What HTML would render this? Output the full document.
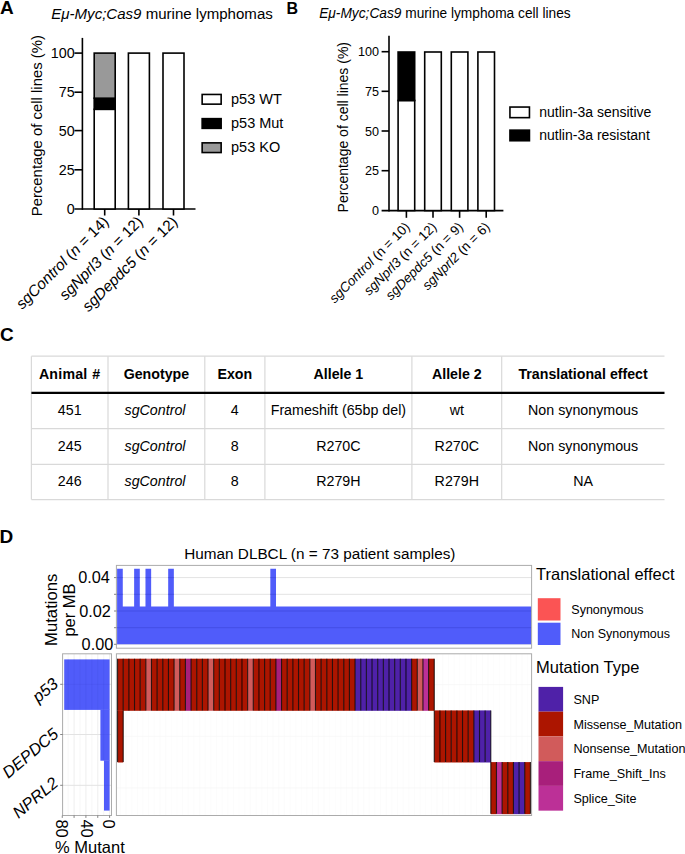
<!DOCTYPE html><html><head><meta charset="utf-8"><title>Figure</title>
<style>html,body{margin:0;padding:0;background:#fff;}svg{display:block;}text{font-family:"Liberation Sans", sans-serif;fill:#000;}</style>
</head><body>
<svg width="685" height="854" viewBox="0 0 685 854">
<rect x="0" y="0" width="685" height="854" fill="#fff"/>
<text x="0" y="14" font-size="19" text-anchor="start" font-weight="bold" font-style="normal" >A</text>
<text x="286.4" y="13.7" font-size="16" text-anchor="start" font-weight="bold" font-style="normal" >B</text>
<text x="0" y="341.2" font-size="19" text-anchor="start" font-weight="bold" font-style="normal" >C</text>
<text x="-0.4" y="543.2" font-size="19" text-anchor="start" font-weight="bold" font-style="normal" >D</text>
<g id="pA">
<text x="51.3" y="18.8" font-size="15.05"><tspan font-style="italic">Eμ-Myc;Cas9</tspan> murine lymphomas</text>
<text transform="translate(42.4,216.3) rotate(-90)" font-size="14.9">Percentage of cell lines (%)</text>
<g stroke="#000" stroke-width="1.6" fill="none">
<line x1="82.4" y1="37.9" x2="82.4" y2="209.8"/>
<line x1="74.4" y1="209" x2="195.5" y2="209"/>
<line x1="74.4" y1="53.1" x2="82.4" y2="53.1"/>
<line x1="74.4" y1="92.2" x2="82.4" y2="92.2"/>
<line x1="74.4" y1="130.6" x2="82.4" y2="130.6"/>
<line x1="74.4" y1="169.8" x2="82.4" y2="169.8"/>
<line x1="104.7" y1="209" x2="104.7" y2="215.5"/>
<line x1="138.9" y1="209" x2="138.9" y2="215.5"/>
<line x1="173.5" y1="209" x2="173.5" y2="215.5"/>
</g>
<text x="74.6" y="58.300000000000004" font-size="14.3" text-anchor="end" font-weight="normal" font-style="normal" >100</text>
<text x="74.6" y="97.4" font-size="14.3" text-anchor="end" font-weight="normal" font-style="normal" >75</text>
<text x="74.6" y="135.79999999999998" font-size="14.3" text-anchor="end" font-weight="normal" font-style="normal" >50</text>
<text x="74.6" y="175.0" font-size="14.3" text-anchor="end" font-weight="normal" font-style="normal" >25</text>
<text x="74.6" y="214.2" font-size="14.3" text-anchor="end" font-weight="normal" font-style="normal" >0</text>
<rect x="94.20" y="109.30" width="21.0" height="99.70" fill="#fff" stroke="#000" stroke-width="1.6"/>
<rect x="94.20" y="98.20" width="21.0" height="11.10" fill="#000" stroke="#000" stroke-width="1.6"/>
<rect x="94.20" y="53.10" width="21.0" height="45.10" fill="#999" stroke="#000" stroke-width="1.6"/>
<rect x="128.40" y="53.10" width="21.0" height="155.90" fill="#fff" stroke="#000" stroke-width="1.6"/>
<rect x="163.00" y="53.10" width="21.0" height="155.90" fill="#fff" stroke="#000" stroke-width="1.6"/>
<text transform="translate(109.6,222.6) rotate(-45)" font-size="15.4" text-anchor="end"><tspan font-style="italic">sgControl</tspan> (<tspan font-style="italic">n</tspan> = 14)</text>
<text transform="translate(143.8,222.6) rotate(-45)" font-size="15.4" text-anchor="end"><tspan font-style="italic">sgNprl3</tspan> (<tspan font-style="italic">n</tspan> = 12)</text>
<text transform="translate(178.4,222.6) rotate(-45)" font-size="15.4" text-anchor="end"><tspan font-style="italic">sgDepdc5</tspan> (<tspan font-style="italic">n</tspan> = 12)</text>
<rect x="202.15" y="94.45" width="19.0" height="9.7" fill="#fff" stroke="#000" stroke-width="1.6"/>
<text x="231" y="104.05" font-size="14.5" text-anchor="start" font-weight="normal" font-style="normal" >p53 WT</text>
<rect x="202.15" y="118.65" width="19.0" height="9.7" fill="#000" stroke="#000" stroke-width="1.6"/>
<text x="231" y="128.25" font-size="14.5" text-anchor="start" font-weight="normal" font-style="normal" >p53 Mut</text>
<rect x="202.15" y="142.85" width="19.0" height="9.7" fill="#999" stroke="#000" stroke-width="1.6"/>
<text x="231" y="152.45" font-size="14.5" text-anchor="start" font-weight="normal" font-style="normal" >p53 KO</text>
</g>
<g id="pB">
<text x="319.2" y="18.4" font-size="13.72"><tspan font-style="italic">Eμ-Myc;Cas9</tspan> murine lymphoma cell lines</text>
<text transform="translate(348.1,212.4) rotate(-90)" font-size="14">Percentage of cell lines (%)</text>
<g stroke="#000" stroke-width="1.6" fill="none">
<line x1="389" y1="35.8" x2="389" y2="211.4"/>
<line x1="381.6" y1="210.6" x2="503.4" y2="210.6"/>
<line x1="381.6" y1="51.7" x2="389" y2="51.7"/>
<line x1="381.6" y1="91.3" x2="389" y2="91.3"/>
<line x1="381.6" y1="131.0" x2="389" y2="131.0"/>
<line x1="381.6" y1="170.7" x2="389" y2="170.7"/>
<line x1="406.4" y1="210.6" x2="406.4" y2="217.8"/>
<line x1="433.0" y1="210.6" x2="433.0" y2="217.8"/>
<line x1="459.6" y1="210.6" x2="459.6" y2="217.8"/>
<line x1="486.2" y1="210.6" x2="486.2" y2="217.8"/>
</g>
<text x="378.9" y="56.300000000000004" font-size="12.6" text-anchor="end" font-weight="normal" font-style="normal" >100</text>
<text x="378.9" y="95.89999999999999" font-size="12.6" text-anchor="end" font-weight="normal" font-style="normal" >75</text>
<text x="378.9" y="135.6" font-size="12.6" text-anchor="end" font-weight="normal" font-style="normal" >50</text>
<text x="378.9" y="175.29999999999998" font-size="12.6" text-anchor="end" font-weight="normal" font-style="normal" >25</text>
<text x="378.9" y="215.2" font-size="12.6" text-anchor="end" font-weight="normal" font-style="normal" >0</text>
<rect x="398.10" y="100.50" width="16.6" height="110.10" fill="#fff" stroke="#000" stroke-width="1.6"/>
<rect x="398.10" y="52.00" width="16.6" height="48.50" fill="#000" stroke="#000" stroke-width="1.6"/>
<rect x="424.70" y="52.00" width="16.6" height="158.60" fill="#fff" stroke="#000" stroke-width="1.6"/>
<rect x="451.30" y="52.00" width="16.6" height="158.60" fill="#fff" stroke="#000" stroke-width="1.6"/>
<rect x="477.90" y="52.00" width="16.6" height="158.60" fill="#fff" stroke="#000" stroke-width="1.6"/>
<text transform="translate(410.7,227.8) rotate(-45)" font-size="13.4" text-anchor="end"><tspan font-style="italic">sgControl</tspan> (n = 10)</text>
<text transform="translate(437.5,227.8) rotate(-45)" font-size="13.4" text-anchor="end"><tspan font-style="italic">sgNprl3</tspan> (n = 12)</text>
<text transform="translate(463.9,227.8) rotate(-45)" font-size="13.4" text-anchor="end"><tspan font-style="italic">sgDepdc5</tspan> (n = 9)</text>
<text transform="translate(490.6,227.8) rotate(-45)" font-size="13.4" text-anchor="end"><tspan font-style="italic">sgNprl2</tspan> (n = 6)</text>
<rect x="509.95" y="107.05" width="19.5" height="10.6" fill="#fff" stroke="#000" stroke-width="1.6"/>
<text x="539.3" y="117.1" font-size="14" text-anchor="start" font-weight="normal" font-style="normal" >nutlin-3a sensitive</text>
<rect x="509.95" y="130.15" width="19.5" height="10.6" fill="#000" stroke="#000" stroke-width="1.6"/>
<text x="539.3" y="140.2" font-size="14" text-anchor="start" font-weight="normal" font-style="normal" >nutlin-3a resistant</text>
</g>
<g id="pC">
<g stroke="#d9d9d9" stroke-width="1.2">
<line x1="31.4" y1="356.2" x2="31.4" y2="499.6"/>
<line x1="108" y1="356.2" x2="108" y2="499.6"/>
<line x1="204.8" y1="356.2" x2="204.8" y2="499.6"/>
<line x1="264.9" y1="356.2" x2="264.9" y2="499.6"/>
<line x1="411.9" y1="356.2" x2="411.9" y2="499.6"/>
<line x1="501.7" y1="356.2" x2="501.7" y2="499.6"/>
<line x1="31.4" y1="356.2" x2="664.5" y2="356.2"/>
<line x1="31.4" y1="428.7" x2="664.5" y2="428.7"/>
<line x1="31.4" y1="464.3" x2="664.5" y2="464.3"/>
<line x1="31.4" y1="499.6" x2="664.5" y2="499.6"/>
</g>
<line x1="31.4" y1="392.8" x2="664.5" y2="392.8" stroke="#000" stroke-width="2.2"/>
<text x="69.7" y="378.5" font-size="14.2" text-anchor="middle" font-weight="bold" font-style="normal" word-spacing="0.8" letter-spacing="0.2">Animal #</text>
<text x="156.4" y="378.5" font-size="14.2" text-anchor="middle" font-weight="bold" font-style="normal" >Genotype</text>
<text x="234.8" y="378.5" font-size="14.2" text-anchor="middle" font-weight="bold" font-style="normal" >Exon</text>
<text x="338.4" y="378.5" font-size="14.2" text-anchor="middle" font-weight="bold" font-style="normal" >Allele 1</text>
<text x="456.8" y="378.5" font-size="14.2" text-anchor="middle" font-weight="bold" font-style="normal" >Allele 2</text>
<text x="583.1" y="378.5" font-size="14.2" text-anchor="middle" font-weight="bold" font-style="normal" >Translational effect</text>
<text x="69.7" y="415.2" font-size="14.25" text-anchor="middle" font-weight="normal" font-style="normal" >451</text>
<text x="155.0" y="415.2" font-size="14.25" text-anchor="middle" font-weight="normal" font-style="italic" >sgControl</text>
<text x="234.8" y="415.2" font-size="14.25" text-anchor="middle" font-weight="normal" font-style="normal" >4</text>
<text x="338.4" y="415.2" font-size="14.25" text-anchor="middle" font-weight="normal" font-style="normal" >Frameshift (65bp del)</text>
<text x="456.8" y="415.2" font-size="14.25" text-anchor="middle" font-weight="normal" font-style="normal" >wt</text>
<text x="583.1" y="415.2" font-size="14.25" text-anchor="middle" font-weight="normal" font-style="normal" >Non synonymous</text>
<text x="69.7" y="450.9" font-size="14.25" text-anchor="middle" font-weight="normal" font-style="normal" >245</text>
<text x="155.0" y="450.9" font-size="14.25" text-anchor="middle" font-weight="normal" font-style="italic" >sgControl</text>
<text x="234.8" y="450.9" font-size="14.25" text-anchor="middle" font-weight="normal" font-style="normal" >8</text>
<text x="338.4" y="450.9" font-size="14.25" text-anchor="middle" font-weight="normal" font-style="normal" >R270C</text>
<text x="456.8" y="450.9" font-size="14.25" text-anchor="middle" font-weight="normal" font-style="normal" >R270C</text>
<text x="583.1" y="450.9" font-size="14.25" text-anchor="middle" font-weight="normal" font-style="normal" >Non synonymous</text>
<text x="69.7" y="486.2" font-size="14.25" text-anchor="middle" font-weight="normal" font-style="normal" >246</text>
<text x="155.0" y="486.2" font-size="14.25" text-anchor="middle" font-weight="normal" font-style="italic" >sgControl</text>
<text x="234.8" y="486.2" font-size="14.25" text-anchor="middle" font-weight="normal" font-style="normal" >8</text>
<text x="338.4" y="486.2" font-size="14.25" text-anchor="middle" font-weight="normal" font-style="normal" >R279H</text>
<text x="456.8" y="486.2" font-size="14.25" text-anchor="middle" font-weight="normal" font-style="normal" >R279H</text>
<text x="583.1" y="486.2" font-size="14.25" text-anchor="middle" font-weight="normal" font-style="normal" >NA</text>
</g>
<g id="pD">
<text x="184.3" y="559.3" font-size="15.3" text-anchor="start" font-weight="normal" font-style="normal" >Human DLBCL (n = 73 patient samples)</text>
<rect x="116.4" y="565.4" width="415.20000000000005" height="82.80000000000007" fill="#fff"/>
<line x1="116.4" y1="577.6" x2="531.6" y2="577.6" stroke="#e3e3e3" stroke-width="1"/>
<line x1="116.4" y1="594.3" x2="531.6" y2="594.3" stroke="#e3e3e3" stroke-width="1"/>
<line x1="116.4" y1="611.0" x2="531.6" y2="611.0" stroke="#e3e3e3" stroke-width="1"/>
<line x1="116.4" y1="627.7" x2="531.6" y2="627.7" stroke="#e3e3e3" stroke-width="1"/>
<line x1="116.4" y1="644.3" x2="531.6" y2="644.3" stroke="#e3e3e3" stroke-width="1"/>
<clipPath id="bc"><path d="M117.1,644.3 L117.10,568.8 L122.78,568.8 L122.78,606.6 L128.45,606.6 L128.45,606.6 L134.13,606.6 L134.13,568.8 L139.80,568.8 L139.80,606.6 L145.48,606.6 L145.48,568.8 L151.15,568.8 L151.15,606.6 L156.83,606.6 L156.83,606.6 L162.50,606.6 L162.50,606.6 L168.18,606.6 L168.18,568.8 L173.85,568.8 L173.85,606.6 L179.53,606.6 L179.53,606.6 L185.20,606.6 L185.20,606.6 L190.88,606.6 L190.88,606.6 L196.55,606.6 L196.55,606.6 L202.23,606.6 L202.23,606.6 L207.91,606.6 L207.91,606.6 L213.58,606.6 L213.58,606.6 L219.26,606.6 L219.26,606.6 L224.93,606.6 L224.93,606.6 L230.61,606.6 L230.61,606.6 L236.28,606.6 L236.28,606.6 L241.96,606.6 L241.96,606.6 L247.63,606.6 L247.63,606.6 L253.31,606.6 L253.31,606.6 L258.98,606.6 L258.98,606.6 L264.66,606.6 L264.66,606.6 L270.33,606.6 L270.33,568.8 L276.01,568.8 L276.01,606.6 L281.68,606.6 L281.68,606.6 L287.36,606.6 L287.36,606.6 L293.04,606.6 L293.04,606.6 L298.71,606.6 L298.71,606.6 L304.39,606.6 L304.39,606.6 L310.06,606.6 L310.06,606.6 L315.74,606.6 L315.74,606.6 L321.41,606.6 L321.41,606.6 L327.09,606.6 L327.09,606.6 L332.76,606.6 L332.76,606.6 L338.44,606.6 L338.44,606.6 L344.11,606.6 L344.11,606.6 L349.79,606.6 L349.79,606.6 L355.46,606.6 L355.46,606.6 L361.14,606.6 L361.14,606.6 L366.82,606.6 L366.82,606.6 L372.49,606.6 L372.49,606.6 L378.17,606.6 L378.17,606.6 L383.84,606.6 L383.84,606.6 L389.52,606.6 L389.52,606.6 L395.19,606.6 L395.19,606.6 L400.87,606.6 L400.87,606.6 L406.54,606.6 L406.54,606.6 L412.22,606.6 L412.22,606.6 L417.89,606.6 L417.89,606.6 L423.57,606.6 L423.57,606.6 L429.24,606.6 L429.24,606.6 L434.92,606.6 L434.92,606.6 L440.59,606.6 L440.59,606.6 L446.27,606.6 L446.27,606.6 L451.95,606.6 L451.95,606.6 L457.62,606.6 L457.62,606.6 L463.30,606.6 L463.30,606.6 L468.97,606.6 L468.97,606.6 L474.65,606.6 L474.65,606.6 L480.32,606.6 L480.32,606.6 L486.00,606.6 L486.00,606.6 L491.67,606.6 L491.67,606.6 L497.35,606.6 L497.35,606.6 L503.02,606.6 L503.02,606.6 L508.70,606.6 L508.70,606.6 L514.37,606.6 L514.37,606.6 L520.05,606.6 L520.05,606.6 L525.72,606.6 L525.72,606.6 L531.40,606.6 L531.40,644.3 Z"/></clipPath>
<path d="M117.1,644.3 L117.10,568.8 L122.78,568.8 L122.78,606.6 L128.45,606.6 L128.45,606.6 L134.13,606.6 L134.13,568.8 L139.80,568.8 L139.80,606.6 L145.48,606.6 L145.48,568.8 L151.15,568.8 L151.15,606.6 L156.83,606.6 L156.83,606.6 L162.50,606.6 L162.50,606.6 L168.18,606.6 L168.18,568.8 L173.85,568.8 L173.85,606.6 L179.53,606.6 L179.53,606.6 L185.20,606.6 L185.20,606.6 L190.88,606.6 L190.88,606.6 L196.55,606.6 L196.55,606.6 L202.23,606.6 L202.23,606.6 L207.91,606.6 L207.91,606.6 L213.58,606.6 L213.58,606.6 L219.26,606.6 L219.26,606.6 L224.93,606.6 L224.93,606.6 L230.61,606.6 L230.61,606.6 L236.28,606.6 L236.28,606.6 L241.96,606.6 L241.96,606.6 L247.63,606.6 L247.63,606.6 L253.31,606.6 L253.31,606.6 L258.98,606.6 L258.98,606.6 L264.66,606.6 L264.66,606.6 L270.33,606.6 L270.33,568.8 L276.01,568.8 L276.01,606.6 L281.68,606.6 L281.68,606.6 L287.36,606.6 L287.36,606.6 L293.04,606.6 L293.04,606.6 L298.71,606.6 L298.71,606.6 L304.39,606.6 L304.39,606.6 L310.06,606.6 L310.06,606.6 L315.74,606.6 L315.74,606.6 L321.41,606.6 L321.41,606.6 L327.09,606.6 L327.09,606.6 L332.76,606.6 L332.76,606.6 L338.44,606.6 L338.44,606.6 L344.11,606.6 L344.11,606.6 L349.79,606.6 L349.79,606.6 L355.46,606.6 L355.46,606.6 L361.14,606.6 L361.14,606.6 L366.82,606.6 L366.82,606.6 L372.49,606.6 L372.49,606.6 L378.17,606.6 L378.17,606.6 L383.84,606.6 L383.84,606.6 L389.52,606.6 L389.52,606.6 L395.19,606.6 L395.19,606.6 L400.87,606.6 L400.87,606.6 L406.54,606.6 L406.54,606.6 L412.22,606.6 L412.22,606.6 L417.89,606.6 L417.89,606.6 L423.57,606.6 L423.57,606.6 L429.24,606.6 L429.24,606.6 L434.92,606.6 L434.92,606.6 L440.59,606.6 L440.59,606.6 L446.27,606.6 L446.27,606.6 L451.95,606.6 L451.95,606.6 L457.62,606.6 L457.62,606.6 L463.30,606.6 L463.30,606.6 L468.97,606.6 L468.97,606.6 L474.65,606.6 L474.65,606.6 L480.32,606.6 L480.32,606.6 L486.00,606.6 L486.00,606.6 L491.67,606.6 L491.67,606.6 L497.35,606.6 L497.35,606.6 L503.02,606.6 L503.02,606.6 L508.70,606.6 L508.70,606.6 L514.37,606.6 L514.37,606.6 L520.05,606.6 L520.05,606.6 L525.72,606.6 L525.72,606.6 L531.40,606.6 L531.40,644.3 Z" fill="#505cfa"/>
<line x1="117.1" y1="577.6" x2="531.40" y2="577.6" stroke="#3a45d8" stroke-width="1" opacity="0.6" clip-path="url(#bc)"/>
<line x1="117.1" y1="594.3" x2="531.40" y2="594.3" stroke="#3a45d8" stroke-width="1" opacity="0.6" clip-path="url(#bc)"/>
<line x1="117.1" y1="611.0" x2="531.40" y2="611.0" stroke="#3a45d8" stroke-width="1" opacity="0.6" clip-path="url(#bc)"/>
<line x1="117.1" y1="627.7" x2="531.40" y2="627.7" stroke="#3a45d8" stroke-width="1" opacity="0.6" clip-path="url(#bc)"/>
<rect x="116.4" y="565.4" width="415.20000000000005" height="82.80000000000007" fill="none" stroke="#ababab" stroke-width="1"/>
<line x1="114" y1="577.6" x2="116.4" y2="577.6" stroke="#666" stroke-width="0.8"/>
<line x1="114" y1="594.3" x2="116.4" y2="594.3" stroke="#666" stroke-width="0.8"/>
<line x1="114" y1="611.0" x2="116.4" y2="611.0" stroke="#666" stroke-width="0.8"/>
<line x1="114" y1="627.7" x2="116.4" y2="627.7" stroke="#666" stroke-width="0.8"/>
<line x1="114" y1="644.3" x2="116.4" y2="644.3" stroke="#666" stroke-width="0.8"/>
<text x="109.9" y="583.2" font-size="16.3" text-anchor="end" font-weight="normal" font-style="normal" >0.04</text>
<text x="110.9" y="616.6" font-size="16.3" text-anchor="end" font-weight="normal" font-style="normal" >0.02</text>
<text x="113.3" y="649.9" font-size="16.3" text-anchor="end" font-weight="normal" font-style="normal" >0.00</text>
<text transform="translate(57.3,609.8) rotate(-90)" font-size="16.7" text-anchor="middle">Mutations</text>
<text transform="translate(75.1,610) rotate(-90)" font-size="16.5" text-anchor="middle">per MB</text>
<rect x="116.4" y="653.8" width="415.20000000000005" height="161.70000000000005" fill="#fff"/>
<line x1="120.38" y1="653.8" x2="120.38" y2="815.5" stroke="#fafafa" stroke-width="0.7"/>
<line x1="126.03" y1="653.8" x2="126.03" y2="815.5" stroke="#fafafa" stroke-width="0.7"/>
<line x1="131.69" y1="653.8" x2="131.69" y2="815.5" stroke="#fafafa" stroke-width="0.7"/>
<line x1="137.34" y1="653.8" x2="137.34" y2="815.5" stroke="#fafafa" stroke-width="0.7"/>
<line x1="143.00" y1="653.8" x2="143.00" y2="815.5" stroke="#fafafa" stroke-width="0.7"/>
<line x1="148.66" y1="653.8" x2="148.66" y2="815.5" stroke="#fafafa" stroke-width="0.7"/>
<line x1="154.31" y1="653.8" x2="154.31" y2="815.5" stroke="#fafafa" stroke-width="0.7"/>
<line x1="159.97" y1="653.8" x2="159.97" y2="815.5" stroke="#fafafa" stroke-width="0.7"/>
<line x1="165.62" y1="653.8" x2="165.62" y2="815.5" stroke="#fafafa" stroke-width="0.7"/>
<line x1="171.28" y1="653.8" x2="171.28" y2="815.5" stroke="#fafafa" stroke-width="0.7"/>
<line x1="176.93" y1="653.8" x2="176.93" y2="815.5" stroke="#fafafa" stroke-width="0.7"/>
<line x1="182.59" y1="653.8" x2="182.59" y2="815.5" stroke="#fafafa" stroke-width="0.7"/>
<line x1="188.24" y1="653.8" x2="188.24" y2="815.5" stroke="#fafafa" stroke-width="0.7"/>
<line x1="193.90" y1="653.8" x2="193.90" y2="815.5" stroke="#fafafa" stroke-width="0.7"/>
<line x1="199.55" y1="653.8" x2="199.55" y2="815.5" stroke="#fafafa" stroke-width="0.7"/>
<line x1="205.21" y1="653.8" x2="205.21" y2="815.5" stroke="#fafafa" stroke-width="0.7"/>
<line x1="210.87" y1="653.8" x2="210.87" y2="815.5" stroke="#fafafa" stroke-width="0.7"/>
<line x1="216.52" y1="653.8" x2="216.52" y2="815.5" stroke="#fafafa" stroke-width="0.7"/>
<line x1="222.18" y1="653.8" x2="222.18" y2="815.5" stroke="#fafafa" stroke-width="0.7"/>
<line x1="227.83" y1="653.8" x2="227.83" y2="815.5" stroke="#fafafa" stroke-width="0.7"/>
<line x1="233.49" y1="653.8" x2="233.49" y2="815.5" stroke="#fafafa" stroke-width="0.7"/>
<line x1="239.14" y1="653.8" x2="239.14" y2="815.5" stroke="#fafafa" stroke-width="0.7"/>
<line x1="244.80" y1="653.8" x2="244.80" y2="815.5" stroke="#fafafa" stroke-width="0.7"/>
<line x1="250.45" y1="653.8" x2="250.45" y2="815.5" stroke="#fafafa" stroke-width="0.7"/>
<line x1="256.11" y1="653.8" x2="256.11" y2="815.5" stroke="#fafafa" stroke-width="0.7"/>
<line x1="261.76" y1="653.8" x2="261.76" y2="815.5" stroke="#fafafa" stroke-width="0.7"/>
<line x1="267.42" y1="653.8" x2="267.42" y2="815.5" stroke="#fafafa" stroke-width="0.7"/>
<line x1="273.08" y1="653.8" x2="273.08" y2="815.5" stroke="#fafafa" stroke-width="0.7"/>
<line x1="278.73" y1="653.8" x2="278.73" y2="815.5" stroke="#fafafa" stroke-width="0.7"/>
<line x1="284.39" y1="653.8" x2="284.39" y2="815.5" stroke="#fafafa" stroke-width="0.7"/>
<line x1="290.04" y1="653.8" x2="290.04" y2="815.5" stroke="#fafafa" stroke-width="0.7"/>
<line x1="295.70" y1="653.8" x2="295.70" y2="815.5" stroke="#fafafa" stroke-width="0.7"/>
<line x1="301.35" y1="653.8" x2="301.35" y2="815.5" stroke="#fafafa" stroke-width="0.7"/>
<line x1="307.01" y1="653.8" x2="307.01" y2="815.5" stroke="#fafafa" stroke-width="0.7"/>
<line x1="312.66" y1="653.8" x2="312.66" y2="815.5" stroke="#fafafa" stroke-width="0.7"/>
<line x1="318.32" y1="653.8" x2="318.32" y2="815.5" stroke="#fafafa" stroke-width="0.7"/>
<line x1="323.97" y1="653.8" x2="323.97" y2="815.5" stroke="#fafafa" stroke-width="0.7"/>
<line x1="329.63" y1="653.8" x2="329.63" y2="815.5" stroke="#fafafa" stroke-width="0.7"/>
<line x1="335.29" y1="653.8" x2="335.29" y2="815.5" stroke="#fafafa" stroke-width="0.7"/>
<line x1="340.94" y1="653.8" x2="340.94" y2="815.5" stroke="#fafafa" stroke-width="0.7"/>
<line x1="346.60" y1="653.8" x2="346.60" y2="815.5" stroke="#fafafa" stroke-width="0.7"/>
<line x1="352.25" y1="653.8" x2="352.25" y2="815.5" stroke="#fafafa" stroke-width="0.7"/>
<line x1="357.91" y1="653.8" x2="357.91" y2="815.5" stroke="#fafafa" stroke-width="0.7"/>
<line x1="363.56" y1="653.8" x2="363.56" y2="815.5" stroke="#fafafa" stroke-width="0.7"/>
<line x1="369.22" y1="653.8" x2="369.22" y2="815.5" stroke="#fafafa" stroke-width="0.7"/>
<line x1="374.87" y1="653.8" x2="374.87" y2="815.5" stroke="#fafafa" stroke-width="0.7"/>
<line x1="380.53" y1="653.8" x2="380.53" y2="815.5" stroke="#fafafa" stroke-width="0.7"/>
<line x1="386.19" y1="653.8" x2="386.19" y2="815.5" stroke="#fafafa" stroke-width="0.7"/>
<line x1="391.84" y1="653.8" x2="391.84" y2="815.5" stroke="#fafafa" stroke-width="0.7"/>
<line x1="397.50" y1="653.8" x2="397.50" y2="815.5" stroke="#fafafa" stroke-width="0.7"/>
<line x1="403.15" y1="653.8" x2="403.15" y2="815.5" stroke="#fafafa" stroke-width="0.7"/>
<line x1="408.81" y1="653.8" x2="408.81" y2="815.5" stroke="#fafafa" stroke-width="0.7"/>
<line x1="414.46" y1="653.8" x2="414.46" y2="815.5" stroke="#fafafa" stroke-width="0.7"/>
<line x1="420.12" y1="653.8" x2="420.12" y2="815.5" stroke="#fafafa" stroke-width="0.7"/>
<line x1="425.77" y1="653.8" x2="425.77" y2="815.5" stroke="#fafafa" stroke-width="0.7"/>
<line x1="431.43" y1="653.8" x2="431.43" y2="815.5" stroke="#fafafa" stroke-width="0.7"/>
<line x1="437.08" y1="653.8" x2="437.08" y2="815.5" stroke="#fafafa" stroke-width="0.7"/>
<line x1="442.74" y1="653.8" x2="442.74" y2="815.5" stroke="#fafafa" stroke-width="0.7"/>
<line x1="448.40" y1="653.8" x2="448.40" y2="815.5" stroke="#fafafa" stroke-width="0.7"/>
<line x1="454.05" y1="653.8" x2="454.05" y2="815.5" stroke="#fafafa" stroke-width="0.7"/>
<line x1="459.71" y1="653.8" x2="459.71" y2="815.5" stroke="#fafafa" stroke-width="0.7"/>
<line x1="465.36" y1="653.8" x2="465.36" y2="815.5" stroke="#fafafa" stroke-width="0.7"/>
<line x1="471.02" y1="653.8" x2="471.02" y2="815.5" stroke="#fafafa" stroke-width="0.7"/>
<line x1="476.67" y1="653.8" x2="476.67" y2="815.5" stroke="#fafafa" stroke-width="0.7"/>
<line x1="482.33" y1="653.8" x2="482.33" y2="815.5" stroke="#fafafa" stroke-width="0.7"/>
<line x1="487.98" y1="653.8" x2="487.98" y2="815.5" stroke="#fafafa" stroke-width="0.7"/>
<line x1="493.64" y1="653.8" x2="493.64" y2="815.5" stroke="#fafafa" stroke-width="0.7"/>
<line x1="499.29" y1="653.8" x2="499.29" y2="815.5" stroke="#fafafa" stroke-width="0.7"/>
<line x1="504.95" y1="653.8" x2="504.95" y2="815.5" stroke="#fafafa" stroke-width="0.7"/>
<line x1="510.61" y1="653.8" x2="510.61" y2="815.5" stroke="#fafafa" stroke-width="0.7"/>
<line x1="516.26" y1="653.8" x2="516.26" y2="815.5" stroke="#fafafa" stroke-width="0.7"/>
<line x1="521.92" y1="653.8" x2="521.92" y2="815.5" stroke="#fafafa" stroke-width="0.7"/>
<line x1="527.57" y1="653.8" x2="527.57" y2="815.5" stroke="#fafafa" stroke-width="0.7"/>
<line x1="116.4" y1="684.55" x2="531.6" y2="684.55" stroke="#f7f7f7" stroke-width="0.7"/>
<line x1="116.4" y1="736.25" x2="531.6" y2="736.25" stroke="#f7f7f7" stroke-width="0.7"/>
<line x1="116.4" y1="787.95" x2="531.6" y2="787.95" stroke="#f7f7f7" stroke-width="0.7"/>
<rect x="117.55" y="658.7" width="5.705" height="52.10" fill="#ac1500"/>
<rect x="123.21" y="658.7" width="5.705" height="52.10" fill="#ac1500"/>
<rect x="128.86" y="658.7" width="5.705" height="52.10" fill="#ac1500"/>
<rect x="134.52" y="658.7" width="5.705" height="52.10" fill="#ac1500"/>
<rect x="140.17" y="658.7" width="5.705" height="52.10" fill="#ac1500"/>
<rect x="145.83" y="658.7" width="5.705" height="52.10" fill="#d15b5b"/>
<rect x="151.48" y="658.7" width="5.705" height="52.10" fill="#ac1500"/>
<rect x="157.14" y="658.7" width="5.705" height="52.10" fill="#ac1500"/>
<rect x="162.79" y="658.7" width="5.705" height="52.10" fill="#ac1500"/>
<rect x="168.45" y="658.7" width="5.705" height="52.10" fill="#ac1500"/>
<rect x="174.10" y="658.7" width="5.705" height="52.10" fill="#d15b5b"/>
<rect x="179.76" y="658.7" width="5.705" height="52.10" fill="#ac1500"/>
<rect x="185.42" y="658.7" width="5.705" height="52.10" fill="#a81f7b"/>
<rect x="191.07" y="658.7" width="5.705" height="52.10" fill="#ac1500"/>
<rect x="196.73" y="658.7" width="5.705" height="52.10" fill="#ac1500"/>
<rect x="202.38" y="658.7" width="5.705" height="52.10" fill="#ac1500"/>
<rect x="208.04" y="658.7" width="5.705" height="52.10" fill="#d15b5b"/>
<rect x="213.69" y="658.7" width="5.705" height="52.10" fill="#ac1500"/>
<rect x="219.35" y="658.7" width="5.705" height="52.10" fill="#ac1500"/>
<rect x="225.00" y="658.7" width="5.705" height="52.10" fill="#ac1500"/>
<rect x="230.66" y="658.7" width="5.705" height="52.10" fill="#ac1500"/>
<rect x="236.32" y="658.7" width="5.705" height="52.10" fill="#ac1500"/>
<rect x="241.97" y="658.7" width="5.705" height="52.10" fill="#ac1500"/>
<rect x="247.63" y="658.7" width="5.705" height="52.10" fill="#d15b5b"/>
<rect x="253.28" y="658.7" width="5.705" height="52.10" fill="#ac1500"/>
<rect x="258.94" y="658.7" width="5.705" height="52.10" fill="#ac1500"/>
<rect x="264.59" y="658.7" width="5.705" height="52.10" fill="#ac1500"/>
<rect x="270.25" y="658.7" width="5.705" height="52.10" fill="#ac1500"/>
<rect x="275.90" y="658.7" width="5.705" height="52.10" fill="#a81f7b"/>
<rect x="281.56" y="658.7" width="5.705" height="52.10" fill="#ac1500"/>
<rect x="287.21" y="658.7" width="5.705" height="52.10" fill="#ac1500"/>
<rect x="292.87" y="658.7" width="5.705" height="52.10" fill="#ac1500"/>
<rect x="298.53" y="658.7" width="5.705" height="52.10" fill="#ac1500"/>
<rect x="304.18" y="658.7" width="5.705" height="52.10" fill="#ac1500"/>
<rect x="309.84" y="658.7" width="5.705" height="52.10" fill="#d15b5b"/>
<rect x="315.49" y="658.7" width="5.705" height="52.10" fill="#ac1500"/>
<rect x="321.15" y="658.7" width="5.705" height="52.10" fill="#ac1500"/>
<rect x="326.80" y="658.7" width="5.705" height="52.10" fill="#ac1500"/>
<rect x="332.46" y="658.7" width="5.705" height="52.10" fill="#ac1500"/>
<rect x="338.11" y="658.7" width="5.705" height="52.10" fill="#ac1500"/>
<rect x="343.77" y="658.7" width="5.705" height="52.10" fill="#ac1500"/>
<rect x="349.42" y="658.7" width="5.705" height="52.10" fill="#ac1500"/>
<rect x="355.08" y="658.7" width="5.705" height="52.10" fill="#4f21a8"/>
<rect x="360.74" y="658.7" width="5.705" height="52.10" fill="#4f21a8"/>
<rect x="366.39" y="658.7" width="5.705" height="52.10" fill="#4f21a8"/>
<rect x="372.05" y="658.7" width="5.705" height="52.10" fill="#4f21a8"/>
<rect x="377.70" y="658.7" width="5.705" height="52.10" fill="#4f21a8"/>
<rect x="383.36" y="658.7" width="5.705" height="52.10" fill="#4f21a8"/>
<rect x="389.01" y="658.7" width="5.705" height="52.10" fill="#4f21a8"/>
<rect x="394.67" y="658.7" width="5.705" height="52.10" fill="#4f21a8"/>
<rect x="400.32" y="658.7" width="5.705" height="52.10" fill="#4f21a8"/>
<rect x="405.98" y="658.7" width="5.705" height="52.10" fill="#4f21a8"/>
<rect x="411.63" y="658.7" width="5.705" height="52.10" fill="#ac1500"/>
<rect x="417.29" y="658.7" width="5.705" height="52.10" fill="#d15b5b"/>
<rect x="422.95" y="658.7" width="5.705" height="52.10" fill="#bc3097"/>
<rect x="428.60" y="658.7" width="5.705" height="52.10" fill="#ac1500"/>
<path d="M117.55,658.7v51.70M123.21,658.7v51.70M128.86,658.7v51.70M134.52,658.7v51.70M140.17,658.7v51.70M145.83,658.7v51.70M151.48,658.7v51.70M157.14,658.7v51.70M162.79,658.7v51.70M168.45,658.7v51.70M174.1,658.7v51.70M179.76,658.7v51.70M185.42,658.7v51.70M191.07,658.7v51.70M196.73,658.7v51.70M202.38,658.7v51.70M208.04,658.7v51.70M213.69,658.7v51.70M219.35,658.7v51.70M225.0,658.7v51.70M230.66,658.7v51.70M236.32,658.7v51.70M241.97,658.7v51.70M247.63,658.7v51.70M253.28,658.7v51.70M258.94,658.7v51.70M264.59,658.7v51.70M270.25,658.7v51.70M275.9,658.7v51.70M281.56,658.7v51.70M287.21,658.7v51.70M292.87,658.7v51.70M298.53,658.7v51.70M304.18,658.7v51.70M309.84,658.7v51.70M315.49,658.7v51.70M321.15,658.7v51.70M326.8,658.7v51.70M332.46,658.7v51.70M338.11,658.7v51.70M343.77,658.7v51.70M349.42,658.7v51.70M355.08,658.7v51.70M360.74,658.7v51.70M366.39,658.7v51.70M372.05,658.7v51.70M377.7,658.7v51.70M383.36,658.7v51.70M389.01,658.7v51.70M394.67,658.7v51.70M400.32,658.7v51.70M405.98,658.7v51.70M411.63,658.7v51.70M417.29,658.7v51.70M422.95,658.7v51.70M428.6,658.7v51.70M434.26,658.7v51.70" stroke="#000" stroke-opacity="0.78" stroke-width="1.1" fill="none"/>
<rect x="117.55" y="710.4" width="5.705" height="52.10" fill="#ac1500"/>
<rect x="434.26" y="710.4" width="5.705" height="52.10" fill="#ac1500"/>
<rect x="439.91" y="710.4" width="5.705" height="52.10" fill="#ac1500"/>
<rect x="445.57" y="710.4" width="5.705" height="52.10" fill="#ac1500"/>
<rect x="451.22" y="710.4" width="5.705" height="52.10" fill="#ac1500"/>
<rect x="456.88" y="710.4" width="5.705" height="52.10" fill="#ac1500"/>
<rect x="462.53" y="710.4" width="5.705" height="52.10" fill="#ac1500"/>
<rect x="468.19" y="710.4" width="5.705" height="52.10" fill="#ac1500"/>
<rect x="473.85" y="710.4" width="5.705" height="52.10" fill="#4f21a8"/>
<rect x="479.50" y="710.4" width="5.705" height="52.10" fill="#4f21a8"/>
<rect x="485.16" y="710.4" width="5.705" height="52.10" fill="#4f21a8"/>
<path d="M117.55,710.4v51.70M123.21,710.4v51.70M434.26,710.4v51.70M439.91,710.4v51.70M445.57,710.4v51.70M451.22,710.4v51.70M456.88,710.4v51.70M462.53,710.4v51.70M468.19,710.4v51.70M473.85,710.4v51.70M479.5,710.4v51.70M485.16,710.4v51.70M490.81,710.4v51.70" stroke="#000" stroke-opacity="0.78" stroke-width="1.1" fill="none"/>
<rect x="490.81" y="762.1" width="5.705" height="52.10" fill="#ac1500"/>
<rect x="496.47" y="762.1" width="5.705" height="52.10" fill="#bc3097"/>
<rect x="502.12" y="762.1" width="5.705" height="52.10" fill="#ac1500"/>
<rect x="507.78" y="762.1" width="5.705" height="52.10" fill="#ac1500"/>
<rect x="513.43" y="762.1" width="5.705" height="52.10" fill="#4f21a8"/>
<rect x="519.09" y="762.1" width="5.705" height="52.10" fill="#4f21a8"/>
<rect x="524.74" y="762.1" width="5.705" height="52.10" fill="#ac1500"/>
<path d="M490.81,762.1v51.70M496.47,762.1v51.70M502.12,762.1v51.70M507.78,762.1v51.70M513.43,762.1v51.70M519.09,762.1v51.70M524.74,762.1v51.70M530.4,762.1v51.70" stroke="#000" stroke-opacity="0.78" stroke-width="1.1" fill="none"/>
<rect x="116.4" y="653.8" width="415.20000000000005" height="161.70000000000005" fill="none" stroke="#ababab" stroke-width="1"/>
<rect x="62.6" y="653.8" width="48.9" height="161.70000000000005" fill="#fff"/>
<line x1="109.60" y1="653.8" x2="109.60" y2="815.5" stroke="#ececec" stroke-width="0.9"/>
<line x1="103.68" y1="653.8" x2="103.68" y2="815.5" stroke="#f4f4f4" stroke-width="0.7"/>
<line x1="97.76" y1="653.8" x2="97.76" y2="815.5" stroke="#ececec" stroke-width="0.9"/>
<line x1="91.84" y1="653.8" x2="91.84" y2="815.5" stroke="#f4f4f4" stroke-width="0.7"/>
<line x1="85.92" y1="653.8" x2="85.92" y2="815.5" stroke="#ececec" stroke-width="0.9"/>
<line x1="80.00" y1="653.8" x2="80.00" y2="815.5" stroke="#f4f4f4" stroke-width="0.7"/>
<line x1="74.09" y1="653.8" x2="74.09" y2="815.5" stroke="#ececec" stroke-width="0.9"/>
<line x1="68.17" y1="653.8" x2="68.17" y2="815.5" stroke="#f4f4f4" stroke-width="0.7"/>
<line x1="62.6" y1="684.3" x2="111.5" y2="684.3" stroke="#e3e3e3" stroke-width="1"/>
<line x1="62.6" y1="734.5" x2="111.5" y2="734.5" stroke="#e3e3e3" stroke-width="1"/>
<line x1="62.6" y1="785.3" x2="111.5" y2="785.3" stroke="#e3e3e3" stroke-width="1"/>
<rect x="64.2" y="659.4" width="45.40" height="50.50" fill="#505cfa"/>
<rect x="100.4" y="709.5" width="9.20" height="51.20" fill="#505cfa"/>
<rect x="104.0" y="760.3" width="5.60" height="50.30" fill="#505cfa"/>
<clipPath id="lc"><rect x="64.2" y="659.4" width="45.40" height="50.10"/><rect x="100.4" y="709.5" width="9.20" height="50.80"/><rect x="104.0" y="760.3" width="5.60" height="50.30"/></clipPath>
<g clip-path="url(#lc)" stroke="#3a45d8" stroke-opacity="0.22" stroke-width="0.8">
<line x1="103.68" y1="653.8" x2="103.68" y2="815.5"/>
<line x1="97.76" y1="653.8" x2="97.76" y2="815.5"/>
<line x1="91.84" y1="653.8" x2="91.84" y2="815.5"/>
<line x1="85.92" y1="653.8" x2="85.92" y2="815.5"/>
<line x1="80.00" y1="653.8" x2="80.00" y2="815.5"/>
<line x1="74.09" y1="653.8" x2="74.09" y2="815.5"/>
<line x1="68.17" y1="653.8" x2="68.17" y2="815.5"/>
<line x1="62.6" y1="684.3" x2="111.5" y2="684.3"/>
<line x1="62.6" y1="734.5" x2="111.5" y2="734.5"/>
<line x1="62.6" y1="785.3" x2="111.5" y2="785.3"/>
</g>
<rect x="62.6" y="653.8" width="48.9" height="161.70000000000005" fill="none" stroke="#ababab" stroke-width="1"/>
<line x1="60.2" y1="684.3" x2="62.6" y2="684.3" stroke="#666" stroke-width="0.8"/>
<line x1="60.2" y1="734.5" x2="62.6" y2="734.5" stroke="#666" stroke-width="0.8"/>
<line x1="60.2" y1="785.3" x2="62.6" y2="785.3" stroke="#666" stroke-width="0.8"/>
<line x1="109.60" y1="815.5" x2="109.60" y2="817.9" stroke="#666" stroke-width="0.8"/>
<line x1="97.76" y1="815.5" x2="97.76" y2="817.9" stroke="#666" stroke-width="0.8"/>
<line x1="85.92" y1="815.5" x2="85.92" y2="817.9" stroke="#666" stroke-width="0.8"/>
<line x1="74.09" y1="815.5" x2="74.09" y2="817.9" stroke="#666" stroke-width="0.8"/>
<line x1="62.25" y1="815.5" x2="62.25" y2="817.9" stroke="#666" stroke-width="0.8"/>
<text transform="translate(59.3,685.6) rotate(-40)" font-size="16.5" font-style="italic" text-anchor="end">p53</text>
<text transform="translate(59.5,735.9) rotate(-40)" font-size="16.5" font-style="italic" text-anchor="end">DEPDC5</text>
<text transform="translate(59.2,784.8) rotate(-40)" font-size="16.5" font-style="italic" text-anchor="end">NPRL2</text>
<text transform="translate(56.25,819.4) rotate(90)" font-size="16.5">80</text>
<text transform="translate(80.62,819.4) rotate(90)" font-size="16.5">40</text>
<text transform="translate(102.70,819.4) rotate(90)" font-size="16.5">0</text>
<text x="55.1" y="853.3" font-size="16.5" text-anchor="start" font-weight="normal" font-style="normal" >% Mutant</text>
<text x="536" y="580" font-size="16.5" text-anchor="start" font-weight="normal" font-style="normal" >Translational effect</text>
<rect x="537.8" y="598.2" width="22.7" height="22.3" fill="#fb5454"/>
<text x="571.3" y="613.8000000000001" font-size="12.5" text-anchor="start" font-weight="normal" font-style="normal" >Synonymous</text>
<rect x="537.8" y="622.7" width="22.7" height="22.3" fill="#505cfa"/>
<text x="571.3" y="638.3000000000001" font-size="12.5" text-anchor="start" font-weight="normal" font-style="normal" >Non Synonymous</text>
<text x="536" y="673.2" font-size="16.5" text-anchor="start" font-weight="normal" font-style="normal" >Mutation Type</text>
<rect x="538.5" y="686.90" width="24.6" height="24.75" fill="#4f21a8"/>
<text x="573.4" y="703.9" font-size="12.6" text-anchor="start" font-weight="normal" font-style="normal" >SNP</text>
<rect x="538.5" y="711.65" width="24.6" height="24.75" fill="#ac1500"/>
<text x="573.4" y="728.65" font-size="12.6" text-anchor="start" font-weight="normal" font-style="normal" >Missense_Mutation</text>
<rect x="538.5" y="736.40" width="24.6" height="24.75" fill="#d15b5b"/>
<text x="573.4" y="753.4" font-size="12.6" text-anchor="start" font-weight="normal" font-style="normal" >Nonsense_Mutation</text>
<rect x="538.5" y="761.15" width="24.6" height="24.75" fill="#a81f7b"/>
<text x="573.4" y="778.15" font-size="12.6" text-anchor="start" font-weight="normal" font-style="normal" >Frame_Shift_Ins</text>
<rect x="538.5" y="785.90" width="24.6" height="24.75" fill="#bc3097"/>
<text x="573.4" y="802.9" font-size="12.6" text-anchor="start" font-weight="normal" font-style="normal" >Splice_Site</text>
</g>
</svg></body></html>
